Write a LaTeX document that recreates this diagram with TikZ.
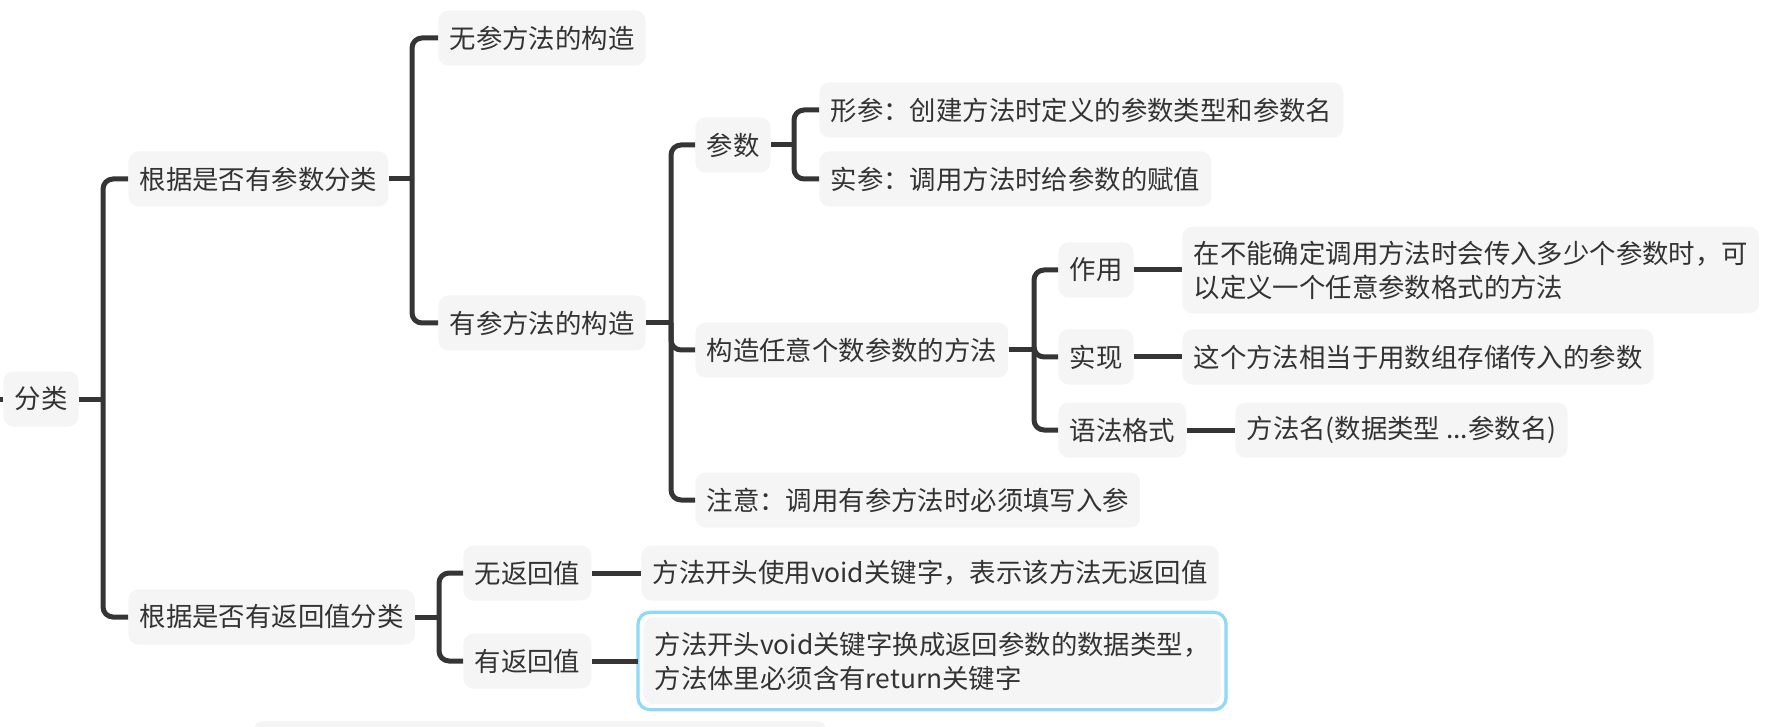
\documentclass[tikz,border=0pt]{standalone}
\usepackage{fontspec}
\setmainfont{Noto Sans CJK SC}
\usetikzlibrary{positioning}
\definecolor{topicfill}{HTML}{F5F5F5}
\definecolor{linkgray}{HTML}{353535}
\definecolor{textgray}{HTML}{333333}
\definecolor{selblue}{HTML}{8FD8F8}

\begin{document}
\begin{tikzpicture}[
  x=0.5pt, y=-0.5pt,
  topic/.style={rectangle, rounded corners=5pt, fill=topicfill, text=textgray, anchor=west,
    inner xsep=5.6pt, inner ysep=4pt, minimum height=27.5pt,
    font=\fontsize{13.2pt}{17pt}\selectfont, align=left},
  twoline/.style={topic, inner ysep=7pt},
  link/.style={draw=linkgray, line width=2.5pt, rounded corners=5pt},
  picked/.style={draw=selblue, line width=1.6pt, rounded corners=6pt}
]
  \useasboundingbox (0,0) rectangle (1789,727);

  % topics
  \node[topic] (fenlei)   at (3,399)    {分类};
  \node[topic] (bycanshu) at (128,179)  {根据是否有参数分类};
  \node[topic] (byfanhui) at (128,617)  {根据是否有返回值分类};
  \node[topic] (wucan)    at (438,38)   {无参方法的构造};
  \node[topic] (youcan)   at (438,323)  {有参方法的构造};
  \node[topic] (canshu)   at (695,145)  {参数};
  \node[topic] (renyi)    at (695,350)  {构造任意个数参数的方法};
  \node[topic] (zhuyi)    at (695,500)  {注意：调用有参方法时必须填写入参};
  \node[topic] (xingcan)  at (819,110)  {形参：创建方法时定义的参数类型和参数名};
  \node[topic] (shican)   at (819,179)  {实参：调用方法时给参数的赋值};
  \node[topic] (zuoyong)  at (1058,270) {作用};
  \node[topic] (shixian)  at (1058,357) {实现};
  \node[topic] (yufa)     at (1058,430) {语法格式};
  \node[twoline] (zuoyongtxt) at (1182,270) {在不能确定调用方法时会传入多少个参数时，可\\以定义一个任意参数格式的方法};
  \node[topic] (shixiantxt) at (1182,357) {这个方法相当于用数组存储传入的参数};
  \node[topic] (yufatxt)    at (1235,430) {方法名(数据类型 ...参数名)};
  \node[topic] (wufanhui)   at (463,573)  {无返回值};
  \node[topic] (youfanhui)  at (463,661)  {有返回值};
  \node[topic] (wufanhuitxt)  at (641,573) {方法开头使用void关键字，表示该方法无返回值};
  \node[twoline] (youfanhuitxt) at (643,661) {方法开头void关键字换成返回参数的数据类型，\\方法体里必须含有return关键字};
  \draw[picked] ([shift={(-2.5pt,2.5pt)}]youfanhuitxt.north west) rectangle ([shift={(2.5pt,-2.5pt)}]youfanhuitxt.south east);

  % next topic, cut off at the bottom
  \fill[topicfill, rounded corners=5pt] (253,721) rectangle (827,780);

  % spines
  \coordinate (offleft) at (0,399);
  \coordinate (s0) at (103,399);
  \coordinate (s1) at (412,179);
  \coordinate (s2) at (671,323);
  \coordinate (s3) at (794,145);
  \coordinate (s4) at (1034,350);
  \coordinate (s5) at (439,617);

  \draw[link] (offleft) -- (fenlei.west);
  \draw[link] (fenlei.east) -- (s0);
  \draw[link] (s0) |- (bycanshu.west);
  \draw[link] (s0) |- (byfanhui.west);

  \draw[link] (bycanshu.east) -- (s1);
  \draw[link] (s1) |- (wucan.west);
  \draw[link] (s1) |- (youcan.west);

  \draw[link] (youcan.east) -- (s2);
  \draw[link] (s2) |- (canshu.west);
  \draw[link] (s2) |- (renyi.west);
  \draw[link] (s2) |- (zhuyi.west);

  \draw[link] (canshu.east) -- (s3);
  \draw[link] (s3) |- (xingcan.west);
  \draw[link] (s3) |- (shican.west);

  \draw[link] (renyi.east) -- (s4);
  \draw[link] (s4) |- (zuoyong.west);
  \draw[link] (s4) |- (shixian.west);
  \draw[link] (s4) |- (yufa.west);

  \draw[link] (zuoyong.east) -- (zuoyongtxt.west);
  \draw[link] (shixian.east) -- (shixiantxt.west);
  \draw[link] (yufa.east) -- (yufatxt.west);

  \draw[link] (byfanhui.east) -- (s5);
  \draw[link] (s5) |- (wufanhui.west);
  \draw[link] (s5) |- (youfanhui.west);
  \draw[link] (wufanhui.east) -- (wufanhuitxt.west);
  \draw[link] (youfanhui.east) -- ([xshift=-2.5pt]youfanhuitxt.west);
\end{tikzpicture}
\end{document}
